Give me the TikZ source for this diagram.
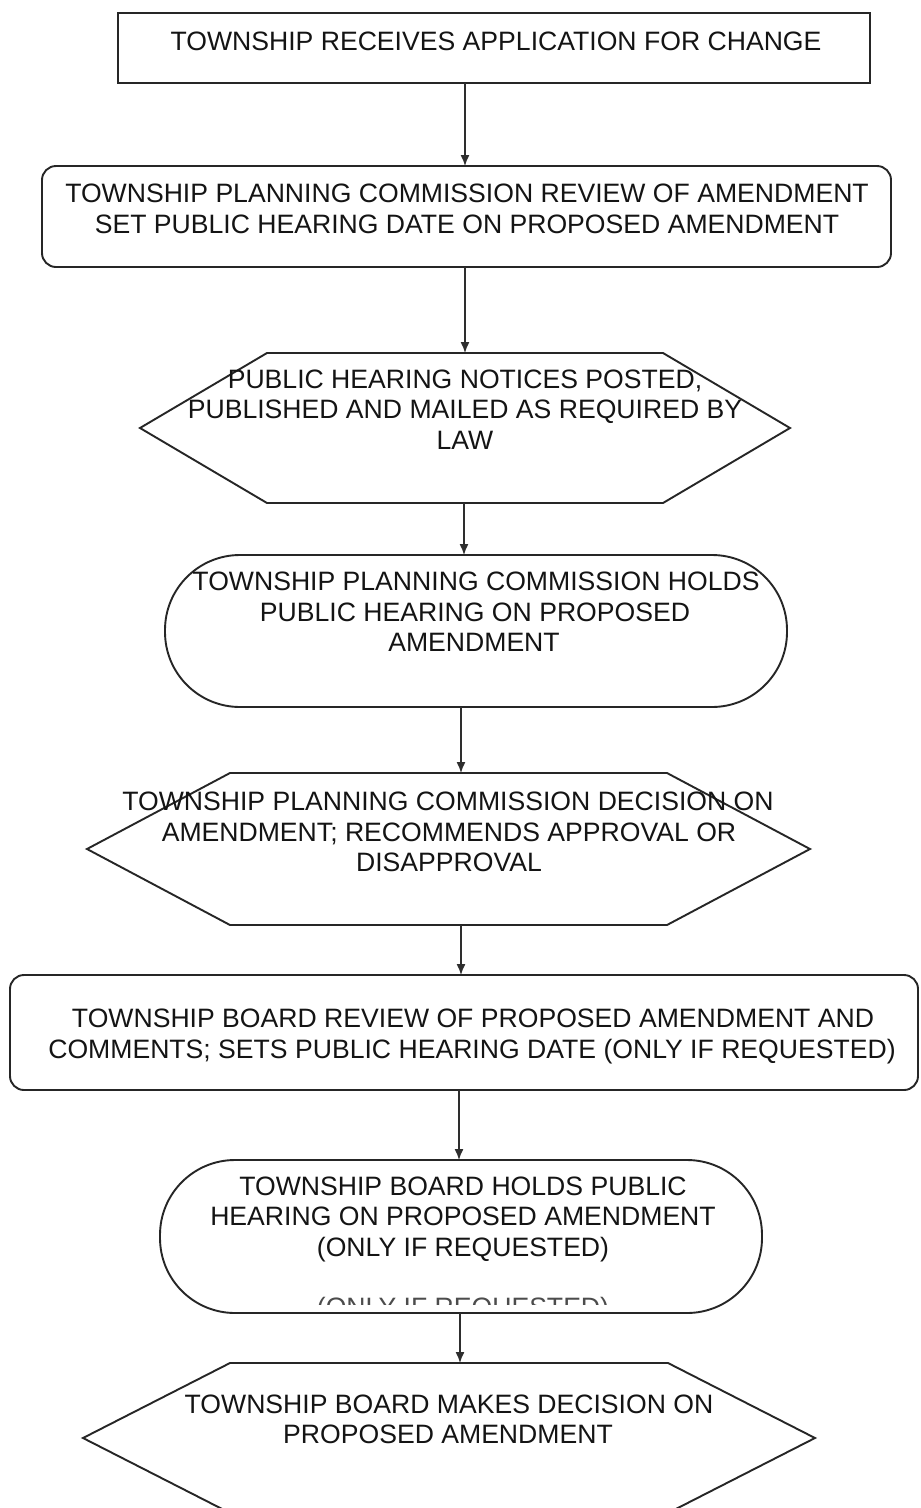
\documentclass[tikz,border=0pt]{standalone}
\usepackage{fontspec}
\setmainfont{Liberation Sans}
\usetikzlibrary{arrows.meta,calc}
\begin{document}
\begin{tikzpicture}[x=1pt,y=-1pt,
  outline/.style={draw=black!85,line width=1.9pt},
  sbox/.style={outline,rectangle,inner sep=0pt,outer sep=0pt},
  rbox/.style={sbox,rounded corners=14pt},
  stad/.style={sbox,rounded corners=75pt},
  hexbox/.style={rectangle,inner sep=0pt,outer sep=0pt},
  txt/.style={inner sep=0pt,anchor=base,text=black!92,font=\fontsize{26.6}{31}\selectfont},
  arr/.style={draw=black!82,line width=1.4pt,-{Latex[length=11pt,width=9pt]}}
]
\useasboundingbox[fill=white] (0,0) rectangle (921,1508);

% shapes
\node[sbox,minimum width=752pt,minimum height=70pt] (b1) at (494,48) {};
\node[rbox,minimum width=849pt,minimum height=101pt] (b2) at (466.5,216.5) {};
\node[hexbox,minimum width=650pt,minimum height=150pt] (h1) at (465,428) {};
\node[stad,minimum width=622pt,minimum height=152pt] (s1) at (476,631) {};
\node[hexbox,minimum width=723pt,minimum height=152pt] (h2) at (448.5,849) {};
\node[rbox,minimum width=908pt,minimum height=115pt] (b3) at (464,1032.5) {};
\node[stad,minimum width=602pt,minimum height=153pt] (s2) at (461,1236.5) {};
\node[hexbox,minimum width=732pt,minimum height=150pt] (h3) at (449,1438) {};

\draw[outline,line join=miter] ([xshift=127pt]h1.north west) -- ([xshift=-127pt]h1.north east) -- (h1.east)
  -- ([xshift=-127pt]h1.south east) -- ([xshift=127pt]h1.south west) -- (h1.west) -- cycle;
\draw[outline,line join=miter] ([xshift=143pt]h2.north west) -- ([xshift=-143pt]h2.north east) -- (h2.east)
  -- ([xshift=-143pt]h2.south east) -- ([xshift=143pt]h2.south west) -- (h2.west) -- cycle;
\draw[outline,line join=miter] ([xshift=147pt]h3.north west) -- ([xshift=-147pt]h3.north east) -- (h3.east)
  -- ([xshift=-147pt]h3.south east) -- ([xshift=147pt]h3.south west) -- (h3.west) -- cycle;

% texts
\node[txt] (t1) at (496,50) {TOWNSHIP RECEIVES APPLICATION FOR CHANGE};

\node[txt] (t2a) at (467,202) {TOWNSHIP PLANNING COMMISSION REVIEW OF AMENDMENT};
\node[txt] (t2b) at (467,233) {SET PUBLIC HEARING DATE ON PROPOSED AMENDMENT};

\node[txt] (t3a) at (465,388) {PUBLIC HEARING NOTICES POSTED,};
\node[txt] (t3b) at (465,418) {PUBLISHED AND MAILED AS REQUIRED BY};
\node[txt] (t3c) at (465,449) {LAW};

\node[txt] (t4a) at (476,590) {TOWNSHIP PLANNING COMMISSION HOLDS};
\node[txt] (t4b) at (475,621) {PUBLIC HEARING ON PROPOSED};
\node[txt] (t4c) at (474,651) {AMENDMENT};

\node[txt] (t5a) at (448,810) {TOWNSHIP PLANNING COMMISSION DECISION ON};
\node[txt] (t5b) at (449,841) {AMENDMENT; RECOMMENDS APPROVAL OR};
\node[txt] (t5c) at (449,871) {DISAPPROVAL};

\node[txt] (t6a) at (473,1027) {TOWNSHIP BOARD REVIEW OF PROPOSED AMENDMENT AND};
\node[txt] (t6b) at (472,1058) {COMMENTS; SETS PUBLIC HEARING DATE (ONLY IF REQUESTED)};

\node[txt] (t7a) at (463,1195) {TOWNSHIP BOARD HOLDS PUBLIC};
\node[txt] (t7b) at (463,1225) {HEARING ON PROPOSED AMENDMENT};
\node[txt] (t7c) at (463,1256) {(ONLY IF REQUESTED)};
\begin{scope}
  \clip (280,1288) rectangle (650,1304);
  \node[txt,text=black!70] (t7d) at (463,1316) {(ONLY IF REQUESTED)};
\end{scope}

\node[txt] (t8a) at (449,1413) {TOWNSHIP BOARD MAKES DECISION ON};
\node[txt] (t8b) at (448,1443) {PROPOSED AMENDMENT};

% connectors
\draw[arr] ([xshift=-29pt]b1.south) -- ([xshift=-29pt]b1.south |- b2.north);
\draw[arr] ([xshift=-1.5pt]b2.south) -- ([xshift=-1.5pt]b2.south |- h1.north);
\draw[arr] ([xshift=-1pt]h1.south) -- ([xshift=-1pt]h1.south |- s1.north);
\draw[arr] ([xshift=-15pt]s1.south) -- ([xshift=-15pt]s1.south |- h2.north);
\draw[arr] ([xshift=12.5pt]h2.south) -- ([xshift=12.5pt]h2.south |- b3.north);
\draw[arr] ([xshift=-5pt]b3.south) -- ([xshift=-5pt]b3.south |- s2.north);
\draw[arr] ([xshift=-1pt]s2.south) -- ([xshift=-1pt]s2.south |- h3.north);
\end{tikzpicture}
\end{document}
